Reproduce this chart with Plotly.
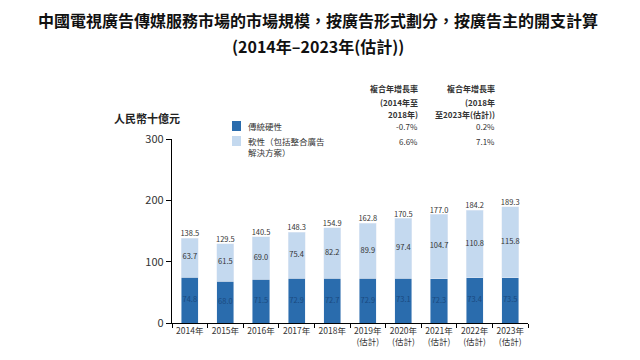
import plotly.graph_objects as go

years = ["2014年", "2015年", "2016年", "2017年", "2018年",
         "2019年<br>(估計)", "2020年<br>(估計)", "2021年<br>(估計)", "2022年<br>(估計)", "2023年<br>(估計)"]
hard = [74.8, 68.0, 71.5, 72.9, 72.7, 72.9, 73.1, 72.3, 73.4, 73.5]
soft = [63.7, 61.5, 69.0, 75.4, 82.2, 89.9, 97.4, 104.7, 110.8, 115.8]
total = [138.5, 129.5, 140.5, 148.3, 154.9, 162.8, 170.5, 177.0, 184.2, 189.3]
series_names = ["傳統硬性", "軟性（包括整合廣告<br>解決方案）"]
cagr_a = ["-0.7%", "6.6%"]
cagr_b = ["0.2%", "7.1%"]

FONT = "Noto Sans CJK TC"
HARD_C = "#2a6cad"
SOFT_C = "#c4d9ef"

fig = go.Figure()
fig.add_bar(x=years, y=hard, marker_color=HARD_C, width=0.48, showlegend=False)
fig.add_bar(x=years, y=soft, marker_color=SOFT_C, width=0.48, showlegend=False)
hard_mid = [h / 2 for h in hard]
soft_mid = [h + s / 2 for h, s in zip(hard, soft)]
fig.add_scatter(x=years, y=hard_mid, mode="text", text=[f"{v:.1f}" for v in hard],
                textposition="middle center", textfont=dict(size=7.5, color="#1a4a80", family=FONT),
                showlegend=False, hoverinfo="skip")
fig.add_scatter(x=years, y=soft_mid, mode="text", text=[f"{v:.1f}" for v in soft],
                textposition="middle center", textfont=dict(size=7.5, color="#333333", family=FONT),
                showlegend=False, hoverinfo="skip")
fig.add_scatter(x=years, y=total, mode="text", text=[f"{v:.1f}" for v in total],
                textposition="top center", textfont=dict(size=7.5, color="#333333", family=FONT),
                showlegend=False, hoverinfo="skip", cliponaxis=False)

fig.update_layout(
    barmode="stack", width=640, height=360,
    margin=dict(l=164, r=120, t=131, b=45),
    plot_bgcolor="white", paper_bgcolor="white",
    font=dict(family=FONT, color="#222222"),
    bargap=0.5,
)
fig.update_xaxes(showline=True, linecolor="black", linewidth=1.2, ticks="outside",
                 tickson="boundaries", ticklen=4, tickcolor="black", tickangle=0, automargin=False,
                 tickfont=dict(size=8.5, color="#333333", family=FONT), showgrid=False)
fig.update_yaxes(range=[0, 300], tickvals=[0, 100, 200, 300], showline=True, linecolor="black",
                 linewidth=1.2, ticks="outside", ticklen=5, tickcolor="black", automargin=False,
                 tickfont=dict(size=11, color="#333333", family=FONT), showgrid=False, zeroline=False)

# reference pixel -> paper coords (plot area spans x 172..528, y 323..139 in the reference)
def px(x, y):
    return dict(xref="paper", yref="paper", x=(x - 172) / 356, y=(323 - y) / 184)

anns = []

def add_text(txt, x, y, size=9, anchor="left", color="#333333", bold=False):
    d = px(x, y)
    if bold:
        txt = f"<b>{txt}</b>"
    anns.append(dict(text=txt, showarrow=False, xanchor=anchor, yanchor="middle",
                     font=dict(size=size, color=color, family=FONT), align=anchor, **d))

add_text("中國電視廣告傳媒服務市場的市場規模，按廣告形式劃分，按廣告主的開支計算",
         318, 20, size=16, anchor="center", color="#111111", bold=True)
add_text("(2014年–2023年(估計))", 318, 46, size=16, anchor="center", color="#111111", bold=True)
add_text("人民幣十億元", 112, 118, size=11, color="#222222", bold=True)
# legend
add_text(series_names[0], 246, 126, size=8.5)
add_text(series_names[1], 246, 146, size=8.5)
# CAGR table headers
add_text("複合年增長率", 420, 89, size=8, anchor="right", bold=True)
add_text("(2014年至", 420, 102, size=8, anchor="right", bold=True)
add_text("2018年)", 420, 114, size=8, anchor="right", bold=True)
add_text("複合年增長率", 497, 89, size=8, anchor="right", bold=True)
add_text("(2018年", 497, 102, size=8, anchor="right", bold=True)
add_text("至2023年(估計))", 497, 114, size=8, anchor="right", bold=True)
add_text(cagr_a[0], 420, 126, size=8, anchor="right")
add_text(cagr_a[1], 420, 141, size=8, anchor="right")
add_text(cagr_b[0], 497, 126, size=8, anchor="right")
add_text(cagr_b[1], 497, 141, size=8, anchor="right")
fig.update_layout(annotations=anns)

def rect(x0, y0, x1, y1, color):
    a = px(x0, y1); b = px(x1, y0)
    fig.add_shape(type="rect", xref="paper", yref="paper", x0=a["x"], x1=b["x"],
                  y0=a["y"], y1=b["y"], fillcolor=color, line=dict(width=0))

rect(232, 121, 241, 131, HARD_C)
rect(232, 136, 241, 146, SOFT_C)

fig.write_html("out.html")
